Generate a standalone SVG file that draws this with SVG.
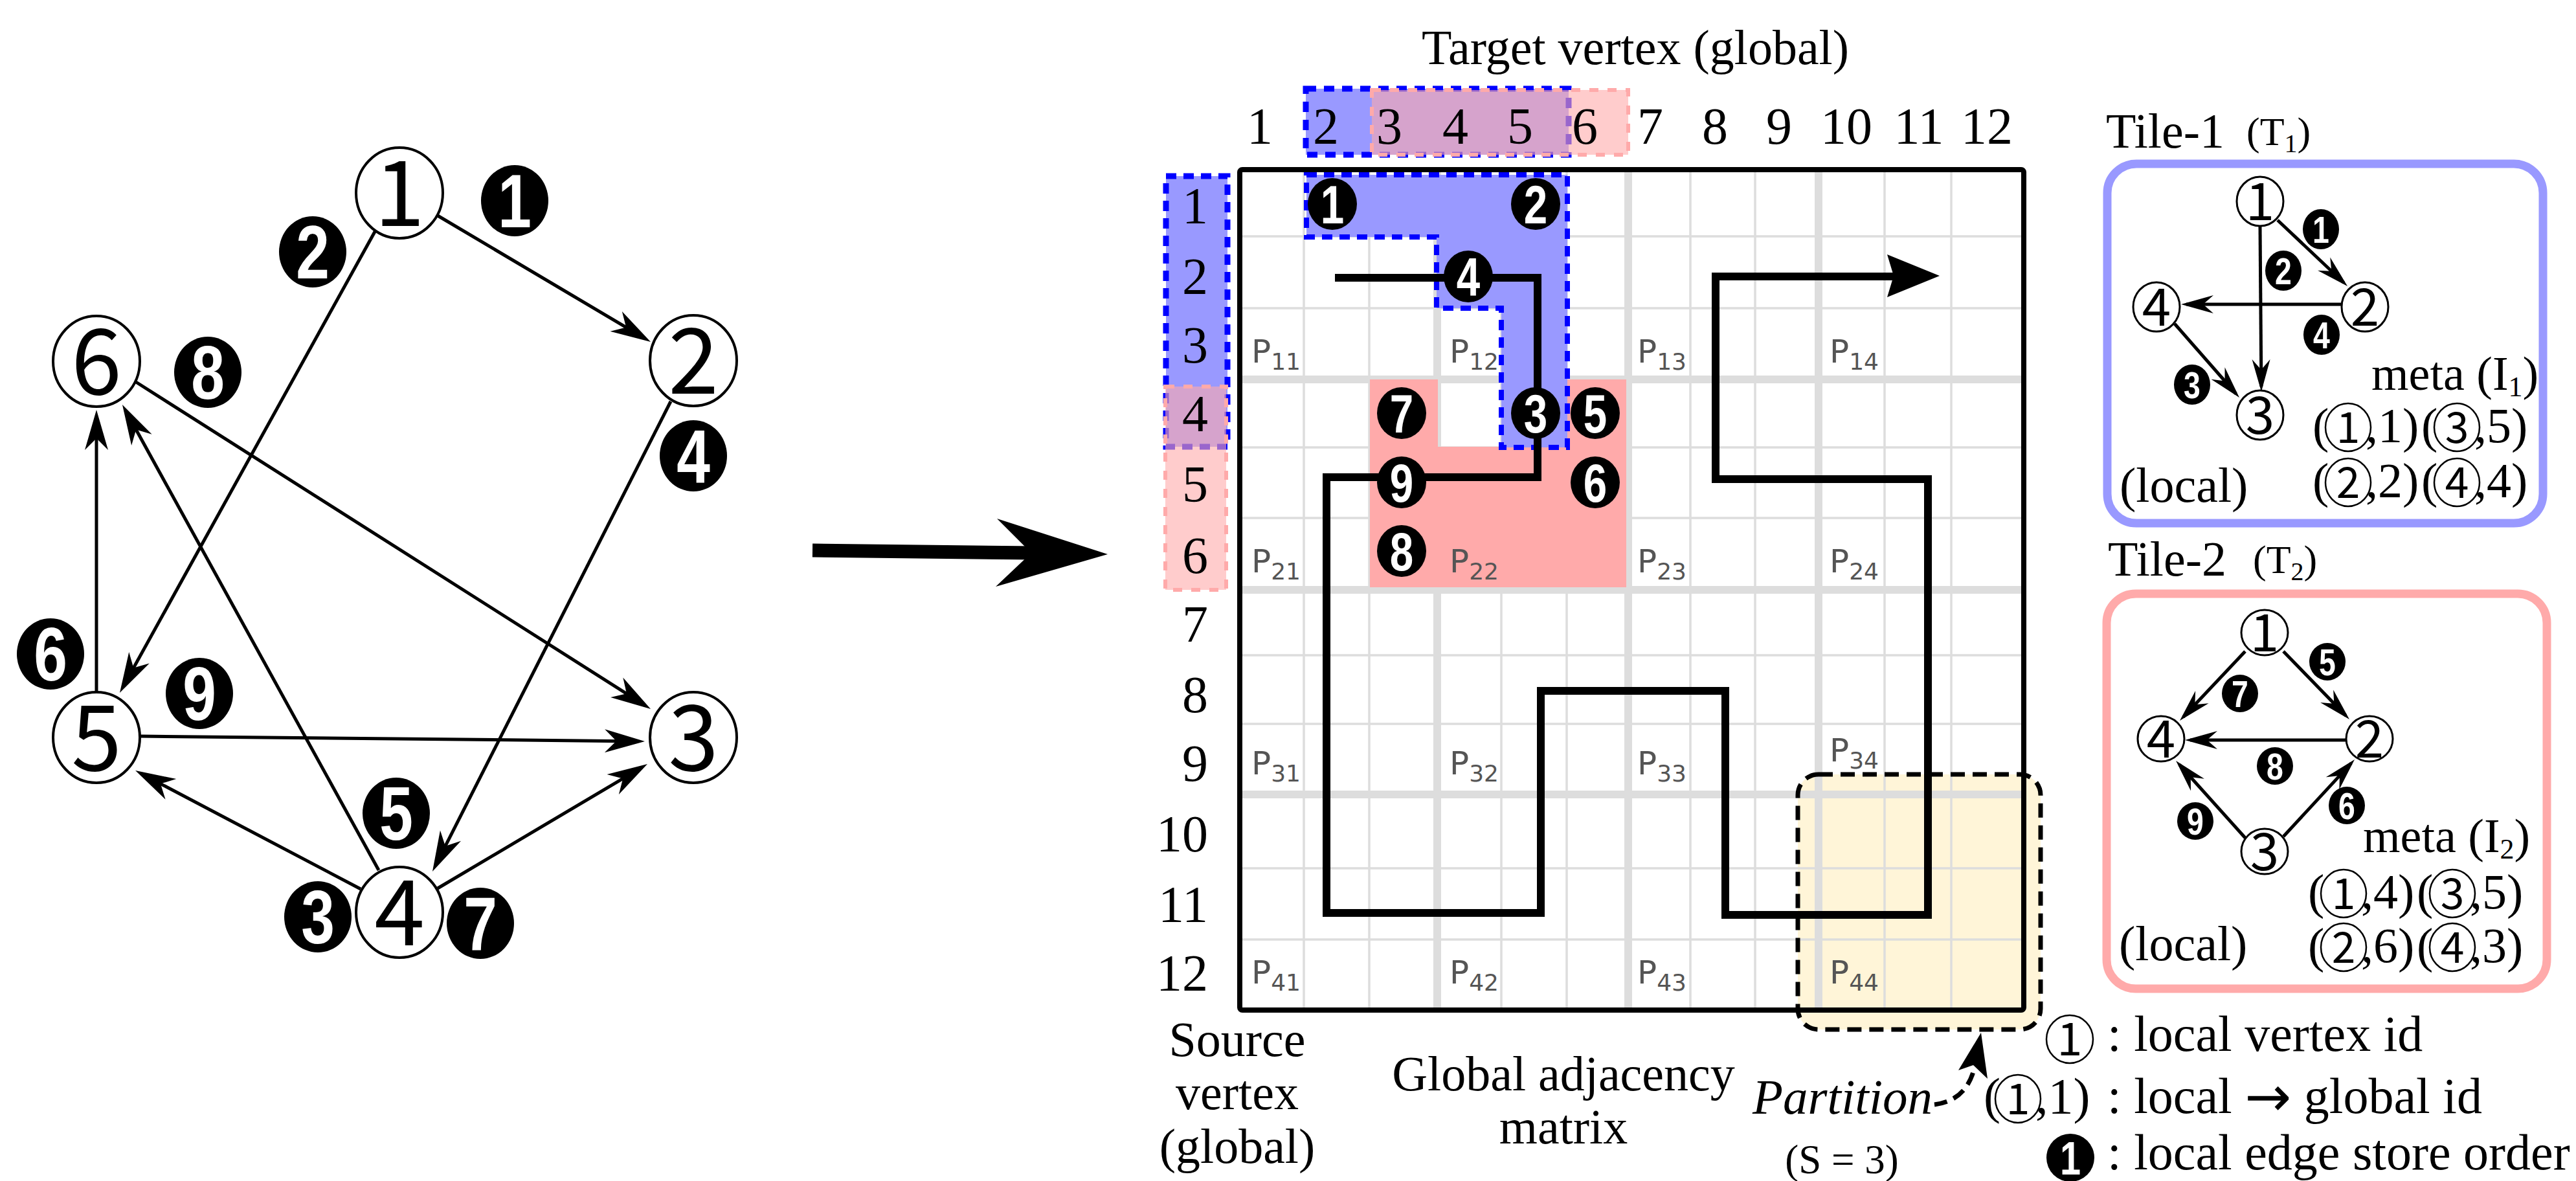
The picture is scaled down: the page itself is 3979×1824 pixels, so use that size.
<svg xmlns="http://www.w3.org/2000/svg" width="3979" height="1824" viewBox="0 0 3979 1824">
<defs>
<style>
.serif{font-family:"Liberation Serif","Times New Roman",serif;fill:#000}
.ndig{font-family:"Noto Sans CJK JP","Noto Sans",sans-serif;fill:#000;text-anchor:middle}
.node ellipse{fill:#fff;stroke:#000}
.badge ellipse{fill:#000}
.badge text{fill:#fff;font-family:"Liberation Sans",Arial,sans-serif;font-weight:bold;text-anchor:middle}
.edge{stroke:#000;stroke-width:5;fill:none}
.gthin{stroke:#dddddd;stroke-width:3.5}
.gthick{stroke:#dddddd;stroke-width:12}
.pl{font-family:"DejaVu Sans",sans-serif;fill:#555;font-size:50px}
.pl tspan{font-size:36px}
.lab{font-family:"Liberation Serif","Times New Roman",serif;font-size:80px;fill:#000}
</style>
<marker id="ah" viewBox="-70 -25 75 50" refX="-10" refY="0" markerWidth="75" markerHeight="50" orient="auto" markerUnits="userSpaceOnUse">
<path d="M0,0 L-62,-18 L-44,0 L-62,18 Z" fill="#000"/>
</marker>
<marker id="ahs" viewBox="-60 -20 65 40" refX="-8" refY="0" markerWidth="65" markerHeight="40" orient="auto" markerUnits="userSpaceOnUse">
<path d="M0,0 L-50,-14 L-34,0 L-50,14 Z" fill="#000"/>
</marker>
</defs>
<rect width="3979" height="1824" fill="#fff"/>

<!-- ===== Left graph ===== -->
<g id="left-edges">
<path class="edge" d="M676,333 L996.4,522.9" marker-end="url(#ah)"/>
<path class="edge" d="M580,356 L189.8,1061.3" marker-end="url(#ah)"/>
<path class="edge" d="M557,1373 L217.9,1194.7" marker-end="url(#ah)"/>
<path class="edge" d="M1036,620 L672.5,1337.1" marker-end="url(#ah)"/>
<path class="edge" d="M676,1372 L991.4,1185.1" marker-end="url(#ah)"/>
<path class="edge" d="M149,1069 L149,643" marker-end="url(#ah)"/>
<path class="edge" d="M210,590 L996.6,1089.6" marker-end="url(#ah)"/>
<path class="edge" d="M216,1137 L986,1144.9" marker-end="url(#ah)"/>
<path class="edge" d="M585,1344 L193.8,633.8" marker-end="url(#ah)"/>
</g>
<g id="left-node-1" class="node"><ellipse cx="617" cy="298" rx="67" ry="70" stroke-width="4"/><text class="ndig" x="617" y="349" font-size="140">1</text></g>
<g id="left-node-2" class="node"><ellipse cx="1071" cy="557" rx="67" ry="70" stroke-width="4"/><text class="ndig" x="1071" y="608" font-size="140">2</text></g>
<g id="left-node-3" class="node"><ellipse cx="1071" cy="1139" rx="67" ry="70" stroke-width="4"/><text class="ndig" x="1071" y="1190" font-size="140">3</text></g>
<g id="left-node-4" class="node"><ellipse cx="617" cy="1409" rx="67" ry="70" stroke-width="4"/><text class="ndig" x="617" y="1460" font-size="140">4</text></g>
<g id="left-node-5" class="node"><ellipse cx="149" cy="1139" rx="67" ry="70" stroke-width="4"/><text class="ndig" x="149" y="1190" font-size="140">5</text></g>
<g id="left-node-6" class="node"><ellipse cx="149" cy="558" rx="67" ry="70" stroke-width="4"/><text class="ndig" x="149" y="609" font-size="140">6</text></g>
<g id="left-badges" font-size="116">
<g class="badge" transform="translate(795,310)"><ellipse rx="52" ry="55"/><text transform="scale(0.8,1)" y="41">1</text></g>
<g class="badge" transform="translate(483,389)"><ellipse rx="52" ry="55"/><text transform="scale(0.8,1)" y="41">2</text></g>
<g class="badge" transform="translate(491,1416)"><ellipse rx="52" ry="55"/><text transform="scale(0.8,1)" y="41">3</text></g>
<g class="badge" transform="translate(1071,704)"><ellipse rx="52" ry="55"/><text transform="scale(0.8,1)" y="41">4</text></g>
<g class="badge" transform="translate(612,1256)"><ellipse rx="52" ry="55"/><text transform="scale(0.8,1)" y="41">5</text></g>
<g class="badge" transform="translate(78,1010)"><ellipse rx="52" ry="55"/><text transform="scale(0.8,1)" y="41">6</text></g>
<g class="badge" transform="translate(742,1426)"><ellipse rx="52" ry="55"/><text transform="scale(0.8,1)" y="41">7</text></g>
<g class="badge" transform="translate(321,575)"><ellipse rx="52" ry="55"/><text transform="scale(0.8,1)" y="41">8</text></g>
<g class="badge" transform="translate(308,1071)"><ellipse rx="52" ry="55"/><text transform="scale(0.8,1)" y="41">9</text></g>
</g>

<!-- ===== Big arrow ===== -->
<g id="big-arrow">
<path d="M1255,850 L1598,854" stroke="#000" stroke-width="21" fill="none"/>
<polygon points="1711,856 1540,801 1593,854 1538,906" fill="#000"/>
</g>

<!-- ===== Matrix ===== -->
<g id="matrix">
<rect x="2777" y="1196" width="375" height="394" rx="32" fill="#fff5d8"/>
<g id="grid-thin" class="gthin">
<line x1="2014" y1="262" x2="2014" y2="1560"/><line x1="2115" y1="262" x2="2115" y2="1560"/>
<line x1="2319" y1="262" x2="2319" y2="1560"/><line x1="2420" y1="262" x2="2420" y2="1560"/>
<line x1="2611" y1="262" x2="2611" y2="1560"/><line x1="2711" y1="262" x2="2711" y2="1560"/>
<line x1="2911" y1="262" x2="2911" y2="1560"/><line x1="3014" y1="262" x2="3014" y2="1560"/>
<line x1="1915" y1="365" x2="3126" y2="365"/><line x1="1915" y1="476" x2="3126" y2="476"/>
<line x1="1915" y1="691" x2="3126" y2="691"/><line x1="1915" y1="800" x2="3126" y2="800"/>
<line x1="1915" y1="1012" x2="3126" y2="1012"/><line x1="1915" y1="1118" x2="3126" y2="1118"/>
<line x1="1915" y1="1341" x2="3126" y2="1341"/><line x1="1915" y1="1451" x2="3126" y2="1451"/>
</g>
<g id="grid-thick" class="gthick">
<line x1="2220" y1="262" x2="2220" y2="1560"/><line x1="2515" y1="262" x2="2515" y2="1560"/><line x1="2809" y1="262" x2="2809" y2="1560"/>
<line x1="1915" y1="586" x2="3126" y2="586"/><line x1="1915" y1="911" x2="3126" y2="911"/><line x1="1915" y1="1227" x2="3126" y2="1227"/>
</g>
<g id="tile2-region"><polygon points="2116,586 2221,586 2221,690 2421,690 2421,586 2512,586 2512,907 2116,907" fill="#ffaaaa"/></g>
<g id="tile1-region"><polygon points="2018,270 2421,270 2421,691 2319,691 2319,476 2219,476 2219,366 2018,366" fill="#9999ff" stroke="#0000ff" stroke-width="8" stroke-dasharray="16 11"/></g>
<g id="partition-labels">
<text class="pl" x="1933" y="560">P<tspan dy="11">11</tspan></text>
<text class="pl" x="2239" y="560">P<tspan dy="11">12</tspan></text>
<text class="pl" x="2529" y="560">P<tspan dy="11">13</tspan></text>
<text class="pl" x="2826" y="560">P<tspan dy="11">14</tspan></text>
<text class="pl" x="1933" y="884">P<tspan dy="11">21</tspan></text>
<text class="pl" x="2239" y="884">P<tspan dy="11">22</tspan></text>
<text class="pl" x="2529" y="884">P<tspan dy="11">23</tspan></text>
<text class="pl" x="2826" y="884">P<tspan dy="11">24</tspan></text>
<text class="pl" x="1933" y="1196">P<tspan dy="11">31</tspan></text>
<text class="pl" x="2239" y="1196">P<tspan dy="11">32</tspan></text>
<text class="pl" x="2529" y="1196">P<tspan dy="11">33</tspan></text>
<text class="pl" x="2826" y="1176">P<tspan dy="11">34</tspan></text>
<text class="pl" x="1933" y="1519">P<tspan dy="11">41</tspan></text>
<text class="pl" x="2239" y="1519">P<tspan dy="11">42</tspan></text>
<text class="pl" x="2529" y="1519">P<tspan dy="11">43</tspan></text>
<text class="pl" x="2826" y="1519">P<tspan dy="11">44</tspan></text>
</g>
<rect id="matrix-border" x="1915" y="262" width="1211" height="1298" rx="4" fill="none" stroke="#000" stroke-width="8"/>
<g id="store-order-path">
<path d="M2062,429 H2375 V737 H2049 V1410 H2380 V1067 H2665 V1413 H2978 V740 H2650 V427 H2925" fill="none" stroke="#000" stroke-width="12" stroke-linejoin="miter"/>
<polygon points="2996,426 2915,393 2925,426 2915,459" fill="#000"/>
</g>
<g id="matrix-badges" font-size="84">
<g class="badge" transform="translate(2058,315)"><ellipse rx="38" ry="40"/><text transform="scale(0.78,1)" y="30">1</text></g>
<g class="badge" transform="translate(2372,315)"><ellipse rx="38" ry="40"/><text transform="scale(0.78,1)" y="30">2</text></g>
<g class="badge" transform="translate(2372,638)"><ellipse rx="38" ry="40"/><text transform="scale(0.78,1)" y="30">3</text></g>
<g class="badge" transform="translate(2268,427)"><ellipse rx="38" ry="40"/><text transform="scale(0.78,1)" y="30">4</text></g>
<g class="badge" transform="translate(2464,638)"><ellipse rx="38" ry="40"/><text transform="scale(0.78,1)" y="30">5</text></g>
<g class="badge" transform="translate(2464,745)"><ellipse rx="38" ry="40"/><text transform="scale(0.78,1)" y="30">6</text></g>
<g class="badge" transform="translate(2165,638)"><ellipse rx="38" ry="40"/><text transform="scale(0.78,1)" y="30">7</text></g>
<g class="badge" transform="translate(2165,851)"><ellipse rx="38" ry="40"/><text transform="scale(0.78,1)" y="30">8</text></g>
<g class="badge" transform="translate(2165,745)"><ellipse rx="38" ry="40"/><text transform="scale(0.78,1)" y="30">9</text></g>
</g>
<rect id="partition-outline" x="2777" y="1196" width="375" height="394" rx="32" fill="none" stroke="#000" stroke-width="7" stroke-dasharray="22 12"/>
</g>

<!-- headers -->
<g id="col-header">
<rect x="2017" y="137" width="406" height="102" fill="#9999ff" stroke="#0000ff" stroke-width="9" stroke-dasharray="16 12"/>
<rect x="2119" y="139" width="396" height="100" fill="#ffaaaa" fill-opacity="0.6" stroke="#ffaaaa" stroke-width="6" stroke-dasharray="14 14"/>
<g class="lab" text-anchor="middle">
<text x="1946" y="222">1</text><text x="2048" y="222">2</text><text x="2146" y="222">3</text><text x="2248" y="222">4</text>
<text x="2348" y="222">5</text><text x="2448" y="222">6</text><text x="2549" y="222">7</text><text x="2649" y="222">8</text>
<text x="2748" y="222">9</text><text x="2852" y="222">10</text><text x="2964" y="222">11</text><text x="3069" y="222">12</text>
</g>
<text class="serif" x="2526" y="99" font-size="76" text-anchor="middle">Target vertex (global)</text>
</g>
<g id="row-header">
<rect x="1801" y="272" width="95" height="418" fill="#9999ff" stroke="#0000ff" stroke-width="9" stroke-dasharray="16 11"/>
<rect x="1800" y="597" width="94" height="314" fill="#ffaaaa" fill-opacity="0.6" stroke="#ffaaaa" stroke-width="6" stroke-dasharray="14 14"/>
<g class="lab" text-anchor="end">
<text x="1866" y="345">1</text><text x="1866" y="454">2</text><text x="1866" y="560">3</text><text x="1866" y="666">4</text>
<text x="1866" y="775">5</text><text x="1866" y="885">6</text><text x="1866" y="991">7</text><text x="1866" y="1100">8</text>
<text x="1866" y="1206">9</text><text x="1866" y="1315">10</text><text x="1866" y="1424">11</text><text x="1866" y="1530">12</text>
</g>
</g>
<g id="matrix-captions" class="serif" font-size="76" text-anchor="middle">
<text x="1911" y="1631">Source</text>
<text x="1911" y="1713">vertex</text>
<text x="1911" y="1796">(global)</text>
<text x="2415" y="1684">Global adjacency</text>
<text x="2415" y="1766">matrix</text>
</g>
<g id="partition-callout">
<text class="serif" x="2707" y="1720" font-size="77" font-style="italic">Partition</text>
<text class="serif" x="2845" y="1812" font-size="63" text-anchor="middle">(S = 3)</text>
<path d="M2988,1706 Q3036,1700 3049,1652" fill="none" stroke="#000" stroke-width="7" stroke-dasharray="20 11"/>
<polygon points="3060,1595 3025,1653 3048,1645 3070,1666" fill="#000"/>
</g>

<!-- ===== Tile 1 ===== -->
<g id="tile-1">
<text class="serif" x="3253" y="228" font-size="76">Tile-1</text>
<text class="serif" x="3470" y="224" font-size="62">(T<tspan font-size="40" dy="11">1</tspan><tspan dy="-11">)</tspan></text>
<rect x="3255" y="253" width="673" height="555" rx="45" fill="#fff" stroke="#9999ff" stroke-width="13"/>
<g id="tile1-edges">
<path class="edge" d="M3518,340 L3620.2,436.5" marker-end="url(#ahs)"/>
<path class="edge" d="M3491,350 L3492.9,597" marker-end="url(#ahs)"/>
<path class="edge" d="M3618,470 L3377,470" marker-end="url(#ahs)"/>
<path class="edge" d="M3359,500 L3453.7,608" marker-end="url(#ahs)"/>
</g>
<g id="t1-node-1" class="node"><ellipse cx="3491" cy="311" rx="36" ry="38" stroke-width="3"/><text class="ndig" x="3491" y="340" font-size="80">1</text></g>
<g id="t1-node-2" class="node"><ellipse cx="3653" cy="474" rx="36" ry="38" stroke-width="3"/><text class="ndig" x="3653" y="503" font-size="80">2</text></g>
<g id="t1-node-3" class="node"><ellipse cx="3491" cy="641" rx="36" ry="38" stroke-width="3"/><text class="ndig" x="3491" y="670" font-size="80">3</text></g>
<g id="t1-node-4" class="node"><ellipse cx="3331" cy="474" rx="36" ry="38" stroke-width="3"/><text class="ndig" x="3331" y="503" font-size="80">4</text></g>
<g font-size="58">
<g class="badge" transform="translate(3585,354)"><ellipse rx="28" ry="31"/><text transform="scale(0.8,1)" y="21">1</text></g>
<g class="badge" transform="translate(3527,418)"><ellipse rx="28" ry="31"/><text transform="scale(0.8,1)" y="21">2</text></g>
<g class="badge" transform="translate(3386,594)"><ellipse rx="28" ry="31"/><text transform="scale(0.8,1)" y="21">3</text></g>
<g class="badge" transform="translate(3586,517)"><ellipse rx="28" ry="31"/><text transform="scale(0.8,1)" y="21">4</text></g>
</g>
<text class="serif" x="3274" y="775" font-size="76">(local)</text>
<text class="serif" x="3663" y="602" font-size="74">meta (I<tspan font-size="44" dy="10">1</tspan><tspan dy="-10">)</tspan></text>
<g id="t1-meta" class="serif" font-size="76">
<text x="3572" y="683">(</text><ellipse cx="3627" cy="660" rx="35" ry="37" fill="none" stroke="#000" stroke-width="2.5"/><text class="ndig" x="3627" y="684" font-size="66">1</text><text x="3654" y="683">,1)</text>
<text x="3740" y="683">(</text><ellipse cx="3795" cy="660" rx="35" ry="37" fill="none" stroke="#000" stroke-width="2.5"/><text class="ndig" x="3795" y="684" font-size="66">3</text><text x="3822" y="683">,5)</text>
<text x="3572" y="768">(</text><ellipse cx="3627" cy="745" rx="35" ry="37" fill="none" stroke="#000" stroke-width="2.5"/><text class="ndig" x="3627" y="769" font-size="66">2</text><text x="3654" y="768">,2)</text>
<text x="3740" y="768">(</text><ellipse cx="3795" cy="745" rx="35" ry="37" fill="none" stroke="#000" stroke-width="2.5"/><text class="ndig" x="3795" y="769" font-size="66">4</text><text x="3822" y="768">,4)</text>
</g>
</g>

<!-- ===== Tile 2 ===== -->
<g id="tile-2">
<text class="serif" x="3256" y="889" font-size="76">Tile-2</text>
<text class="serif" x="3480" y="885" font-size="62">(T<tspan font-size="40" dy="11">2</tspan><tspan dy="-11">)</tspan></text>
<rect x="3254" y="917" width="680" height="610" rx="45" fill="#fff" stroke="#ffaaaa" stroke-width="13"/>
<g id="tile2-edges">
<path class="edge" d="M3468,1006 L3372.5,1107.2" marker-end="url(#ahs)"/>
<path class="edge" d="M3527,1006 L3623.4,1105.3" marker-end="url(#ahs)"/>
<path class="edge" d="M3624,1143 L3383,1143" marker-end="url(#ahs)"/>
<path class="edge" d="M3468,1294 L3366.4,1181" marker-end="url(#ahs)"/>
<path class="edge" d="M3527,1292 L3631.6,1178.9" marker-end="url(#ahs)"/>
</g>
<g id="t2-node-1" class="node"><ellipse cx="3498" cy="977" rx="36" ry="35" stroke-width="3"/><text class="ndig" x="3498" y="1006" font-size="80">1</text></g>
<g id="t2-node-2" class="node"><ellipse cx="3660" cy="1141" rx="36" ry="35" stroke-width="3"/><text class="ndig" x="3660" y="1170" font-size="80">2</text></g>
<g id="t2-node-3" class="node"><ellipse cx="3498" cy="1315" rx="36" ry="35" stroke-width="3"/><text class="ndig" x="3498" y="1344" font-size="80">3</text></g>
<g id="t2-node-4" class="node"><ellipse cx="3338" cy="1141" rx="36" ry="35" stroke-width="3"/><text class="ndig" x="3338" y="1170" font-size="80">4</text></g>
<g font-size="58">
<g class="badge" transform="translate(3595,1022)"><ellipse rx="28" ry="29"/><text transform="scale(0.8,1)" y="21">5</text></g>
<g class="badge" transform="translate(3625,1244)"><ellipse rx="28" ry="29"/><text transform="scale(0.8,1)" y="21">6</text></g>
<g class="badge" transform="translate(3460,1071)"><ellipse rx="28" ry="29"/><text transform="scale(0.8,1)" y="21">7</text></g>
<g class="badge" transform="translate(3514,1183)"><ellipse rx="28" ry="29"/><text transform="scale(0.8,1)" y="21">8</text></g>
<g class="badge" transform="translate(3391,1268)"><ellipse rx="28" ry="29"/><text transform="scale(0.8,1)" y="21">9</text></g>
</g>
<text class="serif" x="3273" y="1483" font-size="76">(local)</text>
<text class="serif" x="3650" y="1316" font-size="74">meta (I<tspan font-size="44" dy="10">2</tspan><tspan dy="-10">)</tspan></text>
<g id="t2-meta" class="serif" font-size="76">
<text x="3565" y="1403">(</text><ellipse cx="3620" cy="1380" rx="35" ry="37" fill="none" stroke="#000" stroke-width="2.5"/><text class="ndig" x="3620" y="1404" font-size="66">1</text><text x="3647" y="1403">,4)</text>
<text x="3733" y="1403">(</text><ellipse cx="3788" cy="1380" rx="35" ry="37" fill="none" stroke="#000" stroke-width="2.5"/><text class="ndig" x="3788" y="1404" font-size="66">3</text><text x="3815" y="1403">,5)</text>
<text x="3565" y="1486">(</text><ellipse cx="3620" cy="1463" rx="35" ry="37" fill="none" stroke="#000" stroke-width="2.5"/><text class="ndig" x="3620" y="1487" font-size="66">2</text><text x="3647" y="1486">,6)</text>
<text x="3733" y="1486">(</text><ellipse cx="3788" cy="1463" rx="35" ry="37" fill="none" stroke="#000" stroke-width="2.5"/><text class="ndig" x="3788" y="1487" font-size="66">4</text><text x="3815" y="1486">,3)</text>
</g>
</g>

<!-- ===== Legend ===== -->
<g id="legend" class="serif" font-size="78">
<ellipse cx="3197" cy="1605" rx="36" ry="37" fill="none" stroke="#000" stroke-width="2.5"/><text class="ndig" x="3197" y="1630" font-size="70">1</text>
<text x="3255" y="1623">: local vertex id</text>
<text x="3064" y="1719">(</text><ellipse cx="3117" cy="1697" rx="35" ry="37" fill="none" stroke="#000" stroke-width="2.5"/><text class="ndig" x="3117" y="1721" font-size="66">1</text><text x="3144" y="1719">,1)</text>
<text x="3255" y="1719">: local <tspan font-family="DejaVu Sans, sans-serif" font-size="86" dy="4">→</tspan><tspan dy="-4"> global id</tspan></text>
<g class="badge" transform="translate(3198,1788)" font-size="72"><ellipse rx="37" ry="37"/><text transform="scale(0.8,1)" y="26">1</text></g>
<text x="3255" y="1806">: local edge store order</text>
</g>
</svg>
